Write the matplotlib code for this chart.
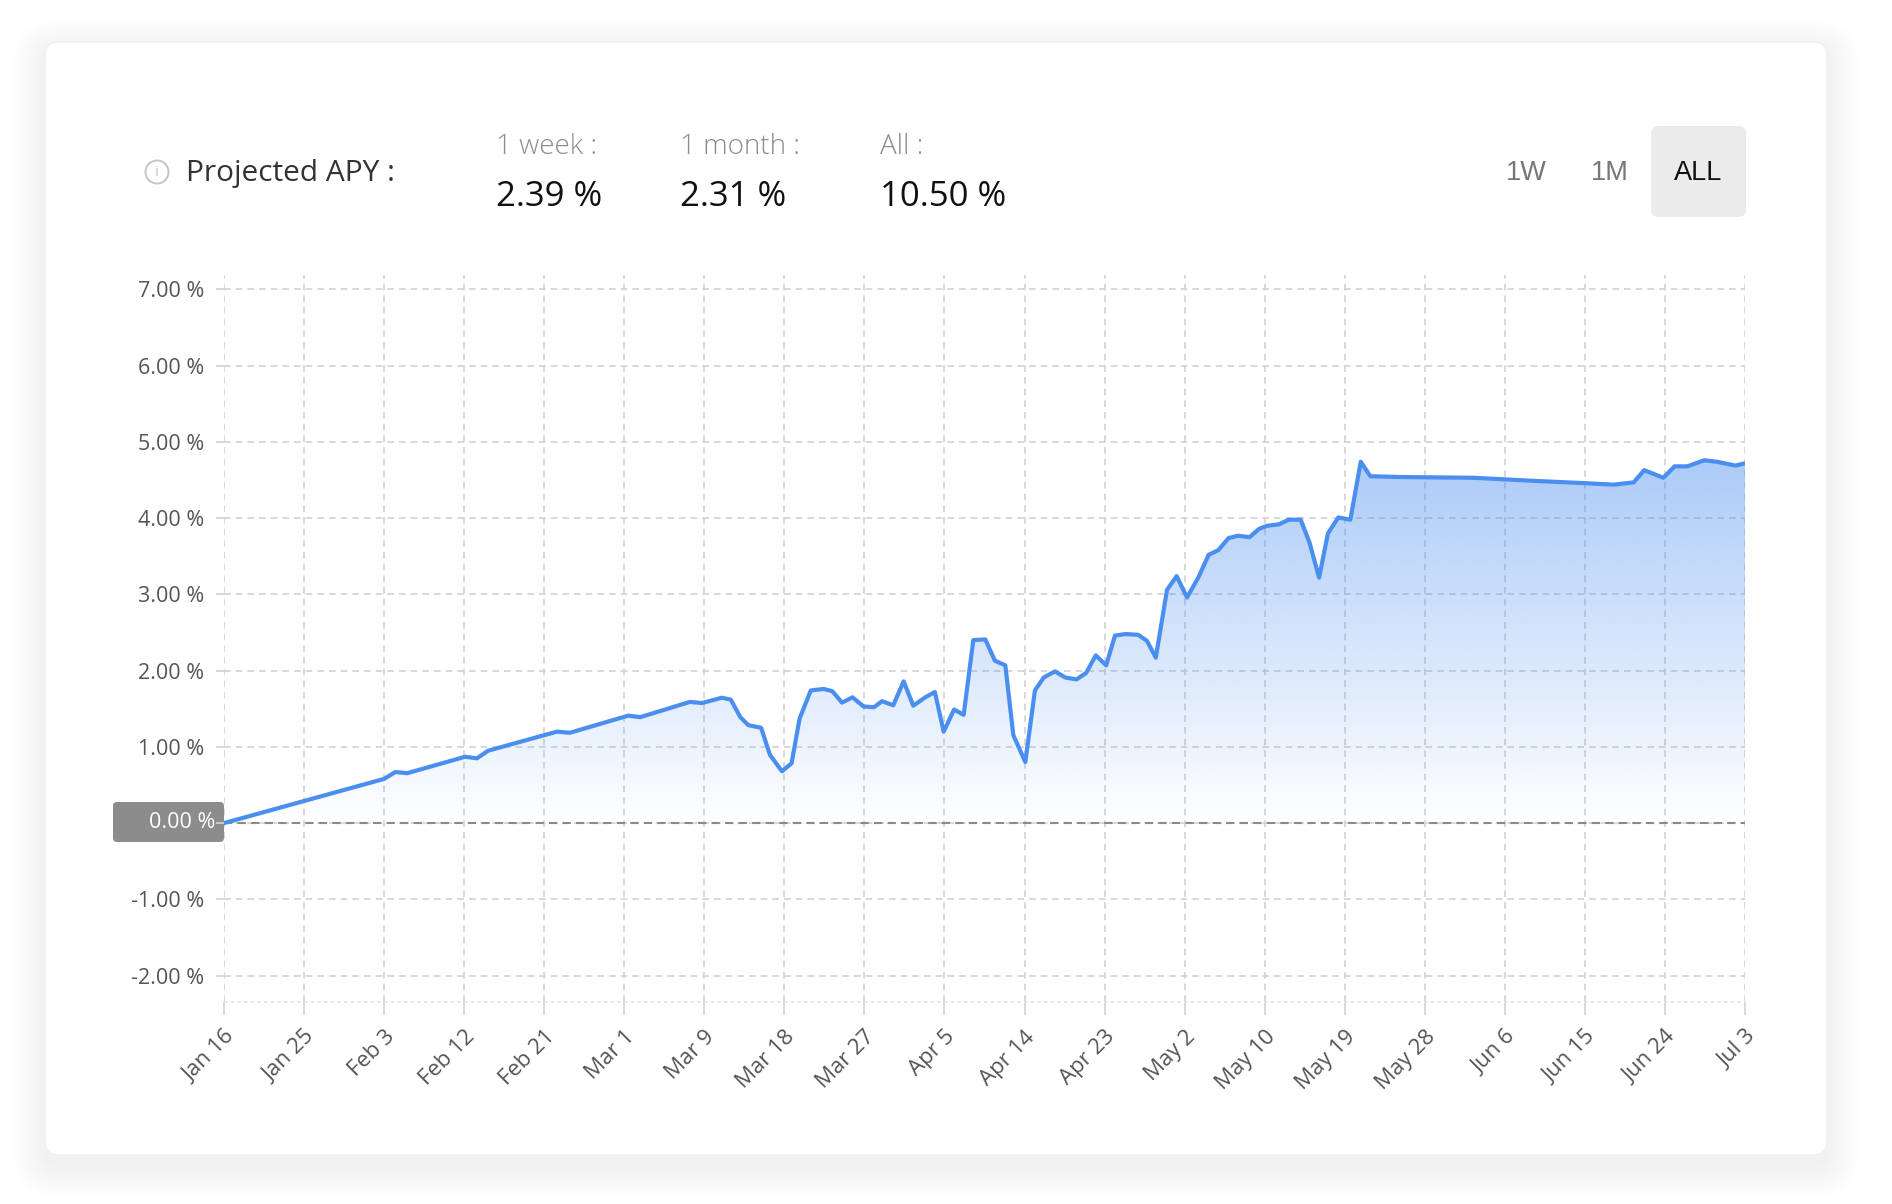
import matplotlib.pyplot as plt
import numpy as np
from matplotlib.patches import FancyBboxPatch, Circle
from matplotlib.colors import to_rgb

plt.rcParams['font.family'] = ['Open Sans', 'DejaVu Sans']

W, H = 1892, 1204

# ---- data ----
x_labels = ["Jan 16", "Jan 25", "Feb 3", "Feb 12", "Feb 21", "Mar 1", "Mar 9",
            "Mar 18", "Mar 27", "Apr 5", "Apr 14", "Apr 23", "May 2", "May 10",
            "May 19", "May 28", "Jun 6", "Jun 15", "Jun 24", "Jul 3"]
y_ticks = [-2, -1, 0, 1, 2, 3, 4, 5, 6, 7]

# x position in tick intervals (0 = Jan 16, 19 = Jul 3)
t_pos = [0.00, 2.00, 2.14, 2.29, 3.01, 3.16, 3.30, 4.16, 4.32, 5.05, 5.20,
         5.82, 5.97, 6.22, 6.33, 6.45, 6.55, 6.71, 6.82, 6.97, 7.09, 7.19,
         7.33, 7.49, 7.60, 7.72, 7.85, 7.99, 8.12, 8.22, 8.36, 8.49, 8.61,
         8.76, 8.88, 8.99, 9.12, 9.24, 9.36, 9.51, 9.63, 9.76, 9.86, 10.01,
         10.13, 10.24, 10.38, 10.51, 10.65, 10.77, 10.89, 11.02, 11.13, 11.26,
         11.42, 11.53, 11.64, 11.78, 11.90, 12.03, 12.17, 12.30, 12.42, 12.55,
         12.67, 12.81, 12.93, 13.03, 13.18, 13.30, 13.45, 13.56, 13.68, 13.79,
         13.92, 14.07, 14.20, 14.32, 14.70, 15.61, 16.36, 16.98, 17.36, 17.61,
         17.74, 17.98, 18.12, 18.28, 18.49, 18.65, 18.88, 19.00]
apy = [0.00, 0.58, 0.67, 0.655, 0.87, 0.85, 0.95, 1.20, 1.185, 1.41, 1.39,
       1.59, 1.575, 1.645, 1.62, 1.39, 1.285, 1.25, 0.895, 0.68, 0.785, 1.37,
       1.74, 1.76, 1.73, 1.58, 1.65, 1.53, 1.52, 1.60, 1.545, 1.86, 1.54,
       1.65, 1.72, 1.20, 1.49, 1.42, 2.40, 2.41, 2.13, 2.07, 1.155, 0.80,
       1.74, 1.91, 1.99, 1.91, 1.885, 1.97, 2.20, 2.07, 2.46, 2.48,
       2.47, 2.39, 2.17, 3.06, 3.24, 2.96, 3.22, 3.52, 3.58, 3.74,
       3.77, 3.75, 3.86, 3.90, 3.92, 3.98, 3.98, 3.68, 3.22, 3.80,
       4.01, 3.98, 4.74, 4.55, 4.54, 4.53, 4.49, 4.46, 4.44, 4.47,
       4.63, 4.53, 4.68, 4.68, 4.76, 4.74, 4.69, 4.72]

header_periods = ["1 week :", "1 month :", "All :"]
header_values = ["2.39 %", "2.31 %", "10.50 %"]
range_buttons = ["1W", "1M", "ALL"]

LINE = '#4a8ef0'
GRID = '#d2d2d2'

fig = plt.figure(figsize=(W / 100, H / 100), dpi=100)
fig.patch.set_facecolor('white')

# background layer in pixel coordinates
bg = fig.add_axes([0, 0, 1, 1])
bg.set_xlim(0, W)
bg.set_ylim(H, 0)
bg.axis('off')

# card with soft shadow
cx, cy, cw, ch = 45, 42, 1782, 1113
for i in range(14):
    pad = 1 + i * 2.4
    bg.add_patch(FancyBboxPatch((cx - pad, cy - pad + 10), cw + 2 * pad, ch + 2 * pad,
                                boxstyle=f"round,pad=0,rounding_size={14 + pad}",
                                fc='#8a8e98', ec='none', alpha=0.007))
bg.add_patch(FancyBboxPatch((cx, cy), cw, ch, boxstyle="round,pad=0,rounding_size=14",
                            fc='white', ec='#f0f0f2', lw=1))

# header
bg.add_patch(Circle((157, 172), 11.5, fc='none', ec='#c6c6c6', lw=1.4))
bg.text(157, 173, "i", ha='center', va='center', fontsize=11, color='#c6c6c6')
bg.text(186, 173, "Projected APY :", ha='left', va='center', fontsize=21.5, color='#333333')
for px, per, val in zip([496, 680, 880], header_periods, header_values):
    bg.text(px, 147, per, ha='left', va='center', fontsize=20, color='#8c8c8c',
            fontweight='light')
    bg.text(px, 197, val, ha='left', va='center', fontsize=25, color='#111111')

bg.add_patch(FancyBboxPatch((1651, 126), 95, 91, boxstyle="round,pad=0,rounding_size=8",
                            fc='#ebebeb', ec='none'))
for px, lab in zip([1526, 1610, 1698], range_buttons):
    bg.text(px, 173, lab, ha='center', va='center', fontsize=19.5,
            family='Liberation Sans', color='#111111' if lab == 'ALL' else '#777777')

# zero label box
bg.add_patch(FancyBboxPatch((113, 802), 111, 40, boxstyle="round,pad=0,rounding_size=4",
                            fc='#8c8c8c', ec='none'))
bg.text(215, 822, "0.00 %", ha='right', va='center', fontsize=15.5, color='white')

# main chart
ylo, yhi = -2.34, 7.19
ax = fig.add_axes([224 / W, 1 - 1001.5 / H, (1745 - 224) / W, (1001.5 - 275) / H])
ax.patch.set_alpha(0)

ys = np.linspace(ylo, yhi, 300)
grad = np.zeros((300, 1, 4))
grad[..., :3] = to_rgb(LINE)
grad[..., 3] = np.clip(ys / 4.75 * 0.46, 0, 0.5)[:, None]
im = ax.imshow(grad, extent=[0, 19, ylo, yhi], origin='lower', aspect='auto',
               zorder=1, interpolation='bilinear')
poly = ax.fill_between(t_pos, apy, 0, facecolor='none', edgecolor='none')
im.set_clip_path(poly.get_paths()[0], transform=ax.transData)

ax.plot(t_pos, apy, color=LINE, lw=3.0, zorder=4,
        solid_joinstyle='round', solid_capstyle='round')

ax.axhline(0, color='#8a8a8a', lw=1.5, ls=(0, (4, 2.5)), zorder=3)
ax.axhline(ylo, color='#e2e2e2', lw=1.2, ls=(0, (2, 2)), zorder=2, clip_on=False)

ax.set_xlim(0, 19)
ax.set_ylim(ylo, yhi)
ax.set_xticks(range(len(x_labels)))
ax.set_xticklabels(x_labels, rotation=45, ha='right', va='top', rotation_mode='anchor',
                   fontsize=16, color='#555555')
ax.set_yticks(y_ticks)
ax.set_yticklabels(['' if v == 0 else f"{v:.2f} %" for v in y_ticks],
                   fontsize=15.5, color='#555555')
ax.grid(True, ls=(0, (4, 3)), color=GRID, lw=1.2, zorder=0)
ax.set_axisbelow(True)
ax.tick_params(axis='x', length=9, width=1.2, color=GRID, pad=9)
ax.tick_params(axis='y', length=6, width=1.2, color=GRID, pad=8)
for s in ax.spines.values():
    s.set_visible(False)

fig.savefig('out.png', dpi=100, facecolor='white')
